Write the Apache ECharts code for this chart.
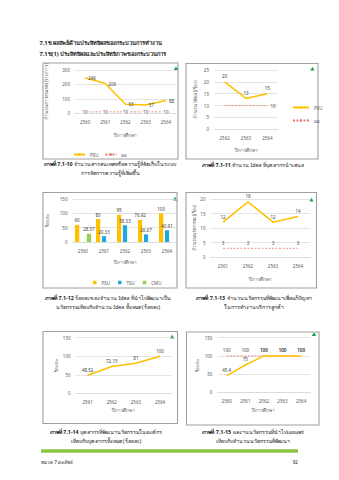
<!DOCTYPE html>
<html><head><meta charset="utf-8">
<script src="https://cdn.jsdelivr.net/npm/echarts@6/dist/echarts.min.js"></script>
<style>html,body{margin:0;padding:0;background:#fff}#c{width:339px;height:480px}</style>
</head><body><div id="c"></div>
<script>
// ภาพที่ 7.1-10 : knowledge items stored in the KM system
const years10 = ['2560', '2561', '2562', '2563', '2564'];
const psu10 = [246, 206, 63, 57, 88];
const std10 = [10, 10, 10, 10, 10];
// ภาพที่ 7.1-11 : ideas proposed by staff
const years11 = ['2562', '2563', '2564'];
const psu11 = [20, 13, 15];
const std11 = [10, 10, 10];
// ภาพที่ 7.1-12 : ideas developed into innovations (%)
const years12 = ['2560', '2561', '2562', '2563', '2564'];
const psu12 = [60, 80, 95, 76.92, 100];
const tsu12 = [null, 20.33, 58.33, 26.67, 40.91];
const cmu12 = [28.57, null, null, null, null];
// ภาพที่ 7.1-13 : innovations solving customer-service problems
const years13 = ['2561', '2562', '2563', '2564'];
const psu13 = [12, 19, 12, 14];
const std13 = [3, 3, 3, 3];
// ภาพที่ 7.1-14 : staff developing innovations (%)
const years14 = ['2561', '2562', '2563', '2564'];
const psu14 = [48.52, 72.15, 81, 100];
// ภาพที่ 7.1-15 : innovations published (%)
const years15 = ['2560', '2561', '2562', '2563', '2564'];
const psu15 = [45.4, 75, 100, 100, 100];
const std15 = [100, 100, 100, 100, 100];

const FONT = "'Noto Sans', 'DejaVu Sans', sans-serif";
const YELLOW = '#FFC000', RED = '#E8736C', BLUE = '#1EA7E1', GREEN = '#92D050';
const TXT = '#595959', GRIDC = '#D9D9D9';

const grids = [
  {left: 75, top: 70, width: 101, height: 43.3},
  {left: 214, top: 70, width: 64, height: 59.3},
  {left: 72.5, top: 199, width: 105, height: 43},
  {left: 210.5, top: 199, width: 100, height: 58},
  {left: 75.6, top: 337.7, width: 96.5, height: 55.6},
  {left: 217.4, top: 337.7, width: 93, height: 54.6}
];
const cats = [years10, years11, years12, years13, years14, years15];
const yMax = [300, 25, 150, 20, 150, 150];
const yInt = [100, 5, 50, 5, 50, 50];
const yNames = ['จำนวนสารสนเทศ (รายการ)', 'จำนวน Idea (เรื่อง)', 'ร้อยละ', 'จำนวนนวัตกรรม (เรื่อง)', 'ร้อยละ', 'ร้อยละ'];
const yGap = [27, 17, 23, 14, 17, 18];
const xGap = [19, 18, 17, 19, 14, 15];

const xAxis = cats.map((c, i) => ({
  type: 'category', gridIndex: i, data: c,
  axisLine: {lineStyle: {color: GRIDC, width: 0.8}}, axisTick: {show: false},
  axisLabel: {color: TXT, fontSize: 4.5, margin: 6, fontFamily: FONT},
  name: 'ปีการศึกษา', nameLocation: 'middle', nameGap: xGap[i],
  nameTextStyle: {color: TXT, fontSize: 4.6, fontFamily: FONT}
}));
const yAxis = cats.map((c, i) => ({
  type: 'value', gridIndex: i, min: 0, max: yMax[i], interval: yInt[i],
  axisLine: {show: false}, axisTick: {show: false},
  splitLine: {lineStyle: {color: GRIDC, width: 0.7}},
  axisLabel: {color: TXT, fontSize: 4.5, margin: 5, fontFamily: FONT},
  name: yNames[i], nameLocation: 'middle', nameGap: yGap[i], nameRotate: 90,
  nameTextStyle: {color: TXT, fontSize: 4.5, fontFamily: FONT}
}));

const lbl = (pos, extra) => Object.assign({show: true, position: pos, fontSize: 4.5, color: '#404040', fontFamily: FONT, distance: 3}, extra || {});
// near-invisible symbols keep the point labels attached to each data point
const psuLine = (i, data, pos) => ({
  name: 'PSU', type: 'line', xAxisIndex: i, yAxisIndex: i, data: data,
  symbol: 'circle', symbolSize: 0.1, showSymbol: true,
  lineStyle: {color: YELLOW, width: 1.5}, itemStyle: {color: YELLOW},
  label: lbl(pos), z: 3
});
const stdLine = (i, data, label) => ({
  name: 'มผ', type: 'line', xAxisIndex: i, yAxisIndex: i, data: data,
  symbol: 'circle', symbolSize: 0.1, showSymbol: true,
  lineStyle: {color: RED, width: 0.8, type: [2, 1.5]}, itemStyle: {color: RED},
  label: label, z: 2
});
const bar = (name, data, color) => ({
  name: name, type: 'bar', xAxisIndex: 2, yAxisIndex: 2, data: data,
  barWidth: 4.2, barGap: '40%', itemStyle: {color: color},
  label: lbl('top', {distance: 2})
});

const series = [
  psuLine(0, psu10, 'right'),
  stdLine(0, std10, lbl('inside', {backgroundColor: '#fff', padding: [0, 1]})),
  psuLine(1, psu11, 'top'),
  stdLine(1, std11.map((v, k) => k === std11.length - 1
    ? {value: v, label: lbl('right', {distance: 3})} : v), {show: false}),
  bar('PSU', psu12, YELLOW),
  bar('TSU', tsu12, BLUE),
  bar('CMU', cmu12, GREEN),
  psuLine(3, psu13, 'top'),
  stdLine(3, std13, lbl('top')),
  psuLine(4, psu14, 'top'),
  psuLine(5, psu15, 'top'),
  stdLine(5, std15, lbl('top'))
];

const legTxt = {color: TXT, fontSize: 4.5, fontFamily: FONT};
const legend = [
  {left: 68, top: 147, itemWidth: 11, itemHeight: 3, itemGap: 6, textStyle: legTxt,
   data: ['PSU', 'มผ'], selectedMode: false},
  {left: 287, top: 100, orient: 'vertical', itemWidth: 16, itemHeight: 3, itemGap: 8, textStyle: legTxt,
   data: ['PSU', 'มผ'], selectedMode: false},
  {left: 88, top: 275, itemWidth: 3.5, itemHeight: 3.5, itemGap: 8, textStyle: legTxt,
   data: ['PSU', 'TSU', 'CMU'], selectedMode: false, icon: 'rect'}
];

// frames around each chart
const boxes = [[43, 63, 135, 96], [186, 63.5, 132, 95.5], [43, 192.5, 134, 95.5],
               [186, 192.5, 130.5, 95.5], [43, 331.5, 134.5, 92], [186.5, 332, 132.5, 93]];
const tri = [[176, 68.5], [312.5, 69], [175, 199], [311.5, 200], [172, 337], [314, 334.5]];
const graphic = [];
boxes.forEach(b => graphic.push({type: 'rect', shape: {x: b[0], y: b[1], width: b[2], height: b[3]},
  style: {fill: 'none', stroke: '#A0A0A0', lineWidth: 1.1}, z: -1}));
tri.forEach(t => graphic.push({type: 'polygon', shape: {points: [[t[0], t[1] - 2.2], [t[0] - 2.2, t[1] + 1.6], [t[0] + 2.2, t[1] + 1.6]]},
  style: {fill: '#1FA34A'}}));

const txt = (x, y, s, size, align, weight, rich) => ({
  type: 'text', x: x, y: y,
  style: {text: s, fontSize: size, fontFamily: FONT, fill: '#222', align: align, verticalAlign: 'middle',
          fontWeight: weight || 'normal', rich: rich}
});
const capRich = {b: {fontWeight: 'bold', fontSize: 5.3, fontFamily: FONT, fill: '#222'},
                 n: {fontSize: 5.3, fontFamily: FONT, fill: '#222'}};
const cap = (x, y, num, rest) => txt(x, y, '{b|ภาพที่ ' + num + '} {n|' + rest + '}', 5.3, 'center', 'normal', capRich);

graphic.push(txt(39.5, 43, '7.1ข ผลลัพธ์ด้านประสิทธิผลของกระบวนการทำงาน', 5.7, 'left', 'bold'));
graphic.push(txt(39.5, 53.5, '7.1ข(1) ประสิทธิผลและประสิทธิภาพของกระบวนการ', 5.7, 'left', 'bold'));
graphic.push(cap(110, 164, '7.1-10', 'จำนวนสารสนเทศหรือความรู้ที่จัดเก็บในระบบ'));
graphic.push(txt(110, 172.5, 'การจัดการความรู้ที่เพิ่มขึ้น', 5.3, 'center'));
graphic.push(cap(253, 165, '7.1-11', 'จำนวน Idea ที่บุคลากรนำเสนอ'));
graphic.push(cap(108, 298, '7.1-12', 'ร้อยละของจำนวน Idea ที่นำไปพัฒนาเป็น'));
graphic.push(txt(108, 307, 'นวัตกรรมเทียบกับจำนวน Idea ทั้งหมด (ร้อยละ)', 5.3, 'center'));
graphic.push(cap(254, 298, '7.1-13', 'จำนวนนวัตกรรมที่พัฒนาเพื่อแก้ปัญหา'));
graphic.push(txt(254, 307, 'ในการทำงานบริการลูกค้า', 5.3, 'center'));
graphic.push(cap(106, 432, '7.1-14', 'บุคลากรที่พัฒนานวัตกรรมในองค์กร'));
graphic.push(txt(106, 441, 'เทียบกับบุคลากรทั้งหมด (ร้อยละ)', 5.3, 'center'));
graphic.push(cap(253, 432, '7.1-15', 'ผลงานนวัตกรรมที่นำไปเผยแพร่'));
graphic.push(txt(253, 441, 'เทียบกับจำนวนนวัตกรรมที่พัฒนา', 5.3, 'center'));
graphic.push({type: 'rect', shape: {x: 41, y: 449.3, width: 257, height: 3.4}, style: {fill: '#8DC63F'}});
graphic.push(txt(41, 462, 'หมวด 7 ผลลัพธ์', 4.6, 'left'));
graphic.push(txt(298, 462, '92', 4.6, 'right'));

const chart = echarts.init(document.getElementById('c'), null, {renderer: 'svg'});
chart.setOption({
  backgroundColor: '#fff', animation: false,
  grid: grids, xAxis: xAxis, yAxis: yAxis, series: series, legend: legend, graphic: graphic
});
</script></body></html>
